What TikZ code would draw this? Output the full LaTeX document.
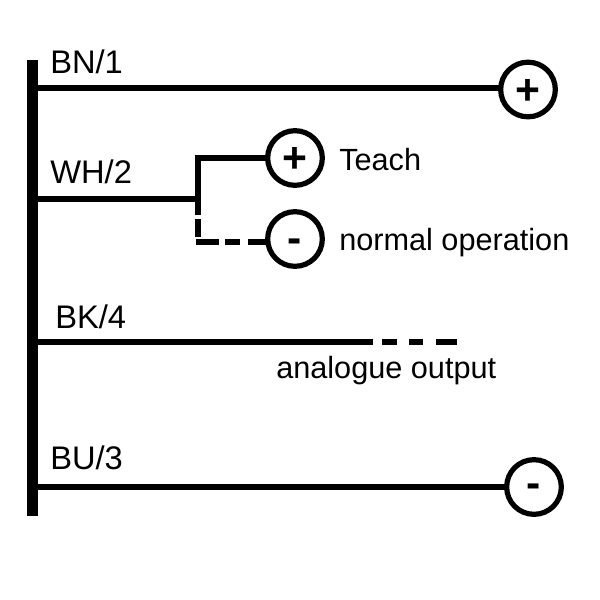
\documentclass[tikz,border=0pt]{standalone}
\usepackage{fontspec}
\setmainfont{Liberation Sans}
\tikzset{
  x=0.75pt,y=-0.75pt,
  wire/.style={line width=3.9pt,black},
  term/.style={circle,draw=black,line width=3.9pt,fill=white,inner sep=0pt,minimum size=41pt},
  plussign/.style={font=\fontsize{32}{32}\selectfont\bfseries},
  minussign/.style={font=\fontsize{32}{32}\selectfont\bfseries},
  lab/.style={inner sep=0pt,anchor=base west,font=\fontsize{24.5}{24.5}\selectfont},
  note/.style={inner sep=0pt,anchor=base west,font=\fontsize{23}{23}\selectfont},
}
\newcommand{\plussym}{\raisebox{-11.2pt}[0pt][0pt]{+}}
\newcommand{\minussym}{\raisebox{-8.2pt}[0pt][0pt]{-}}
\begin{document}
\begin{tikzpicture}
\useasboundingbox (0,0) rectangle (600,600);
\fill[black] (27,60) rectangle (38,516);
\coordinate (a1) at (38,88);
\coordinate (a2) at (38,199);
\coordinate (a3) at (38,342);
\coordinate (a4) at (38,487);
\coordinate (j) at (198,199);
\coordinate (k1) at (198,215);
\coordinate (k2) at (198,219);
\coordinate (k3) at (198,237);
\coordinate (h0) at (196,242);
\coordinate (h1) at (219,242);
\coordinate (h2) at (225,242);
\coordinate (h3) at (240,242);
\coordinate (h4) at (248,242);
\coordinate (h5) at (270,242);
\coordinate (e0) at (373,342);
\coordinate (e1) at (382,342);
\coordinate (e2) at (397,342);
\coordinate (e3) at (409,342);
\coordinate (e4) at (423,342);
\coordinate (e5) at (436,342);
\coordinate (e6) at (457,342);
\draw[wire] (a1) -- (505,88) coordinate (q1);
\draw[wire] (a2) -- (j);
\draw[wire] (k1) -- (j) |- (270,158) coordinate (q2);
\draw[wire] (k2) -- (k3);
\draw[wire] (h0) -- (h1);
\draw[wire] (h2) -- (h3);
\draw[wire] (h4) -- (h5);
\draw[wire] (a3) -- (e0);
\draw[wire] (e1) -- (e2);
\draw[wire] (e3) -- (e4);
\draw[wire] (e5) -- (e6);
\draw[wire] (a4) -- (510,487) coordinate (q4);
\node[term,plussign] (p1) at (528,89.5) {\plussym};
\node[term,plussign] (p2) at (295,158) {\plussym};
\node[term,minussign] (m2) at (295,239) {\raisebox{-10.4pt}[0pt][0pt]{-}};
\node[term,minussign] (m3) at (534,487) {\minussym};
\node[lab] (t1) at (50,73) {BN/1};
\node[lab] (t2) at (50,183) {WH/2};
\node[lab] (t3) at (55,328) {BK/4};
\node[lab] (t4) at (50,469) {BU/3};
\node[note] (n1) at (339,170) {Teach};
\node[note] (n2) at (339,250) {normal operation};
\node[note] (n3) at (276,378) {analogue output};
\end{tikzpicture}
\end{document}
